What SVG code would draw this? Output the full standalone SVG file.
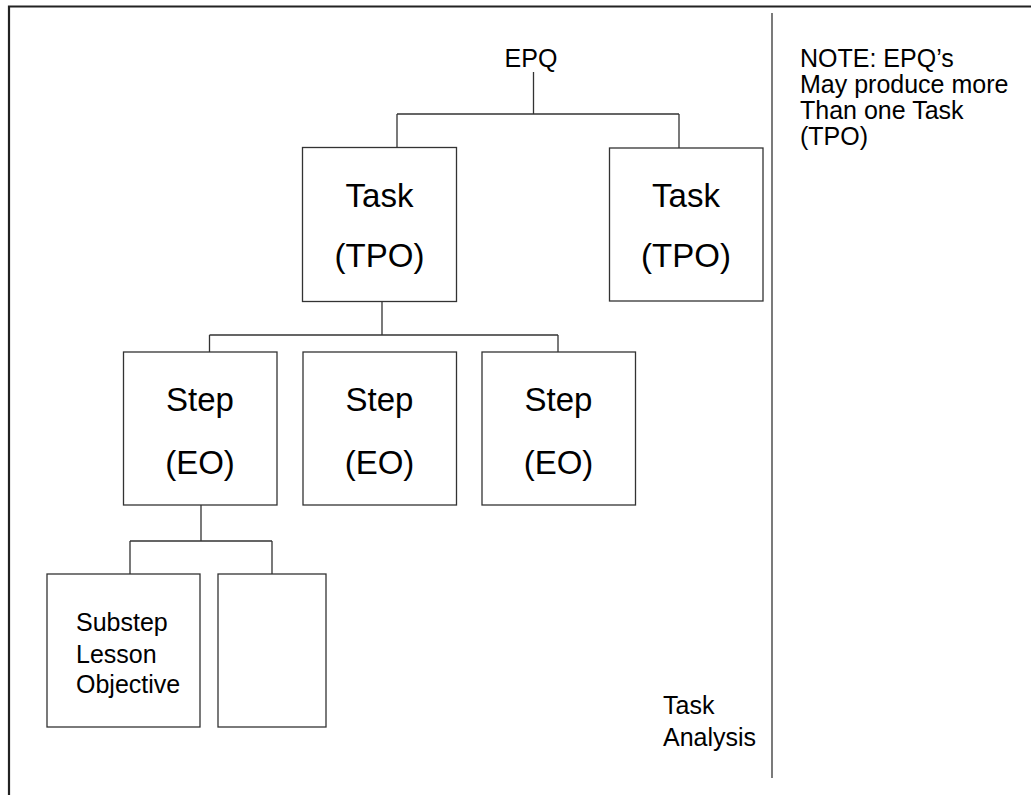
<svg xmlns="http://www.w3.org/2000/svg" width="1031" height="795" viewBox="0 0 1031 795">
<style>
.box{fill:#fff;stroke:#333;stroke-width:1.3}
.ln{fill:none;stroke:#333;stroke-width:1.3}
.big{font-family:"Liberation Sans",Arial,sans-serif;font-size:33px;fill:#000;text-anchor:middle}
.sm{font-family:"Liberation Sans",Arial,sans-serif;font-size:25px;fill:#000}
</style>
<rect width="1031" height="795" fill="#fff"/>
<g id="frame">
<path d="M9 796 V6.5 H1032" fill="none" stroke="#222" stroke-width="2.2"/>
<line x1="772" y1="13" x2="772" y2="778" stroke="#333" stroke-width="1.3"/>
</g>
<g id="connectors">
<path class="ln" d="M533.5 72 V114 M397 114 H679 M397 114 V148 M679 114 V148"/>
<path class="ln" d="M382 301 V335 M209.5 335 H558 M209.5 335 V352 M558 335 V352"/>
<path class="ln" d="M201 505 V541 M130 541 H272 M130 541 V574 M272 541 V574"/>
</g>
<g id="epq"><text class="sm" x="531" y="67" text-anchor="middle">EPQ</text></g>
<g id="task1">
<rect class="box" x="302.5" y="147.5" width="154" height="154"/>
<text class="big" x="379.5" y="207">Task</text>
<text class="big" x="379.5" y="267">(TPO)</text>
</g>
<g id="task2">
<rect class="box" x="609.5" y="148" width="153.5" height="153"/>
<text class="big" x="686" y="207">Task</text>
<text class="big" x="686" y="267">(TPO)</text>
</g>
<g id="step1">
<rect class="box" x="123.5" y="352" width="153.5" height="153"/>
<text class="big" x="200" y="411">Step</text>
<text class="big" x="200" y="474">(EO)</text>
</g>
<g id="step2">
<rect class="box" x="303" y="352" width="153.5" height="153"/>
<text class="big" x="379.5" y="411">Step</text>
<text class="big" x="379.5" y="474">(EO)</text>
</g>
<g id="step3">
<rect class="box" x="482" y="352" width="153.5" height="153"/>
<text class="big" x="558.5" y="411">Step</text>
<text class="big" x="558.5" y="474">(EO)</text>
</g>
<g id="substep1">
<rect class="box" x="47" y="574" width="153" height="153"/>
<text class="sm" x="76" y="631">Substep</text>
<text class="sm" x="76" y="663">Lesson</text>
<text class="sm" x="76" y="693">Objective</text>
</g>
<g id="substep2">
<rect class="box" x="218" y="574" width="108" height="153"/>
</g>
<g id="label-task-analysis">
<text class="sm" x="663" y="714">Task</text>
<text class="sm" x="663" y="746">Analysis</text>
</g>
<g id="note">
<text class="sm" x="800" y="67">NOTE: EPQ’s</text>
<text class="sm" x="800" y="93">May produce more</text>
<text class="sm" x="800" y="119">Than one Task</text>
<text class="sm" x="800" y="145">(TPO)</text>
</g>
</svg>
